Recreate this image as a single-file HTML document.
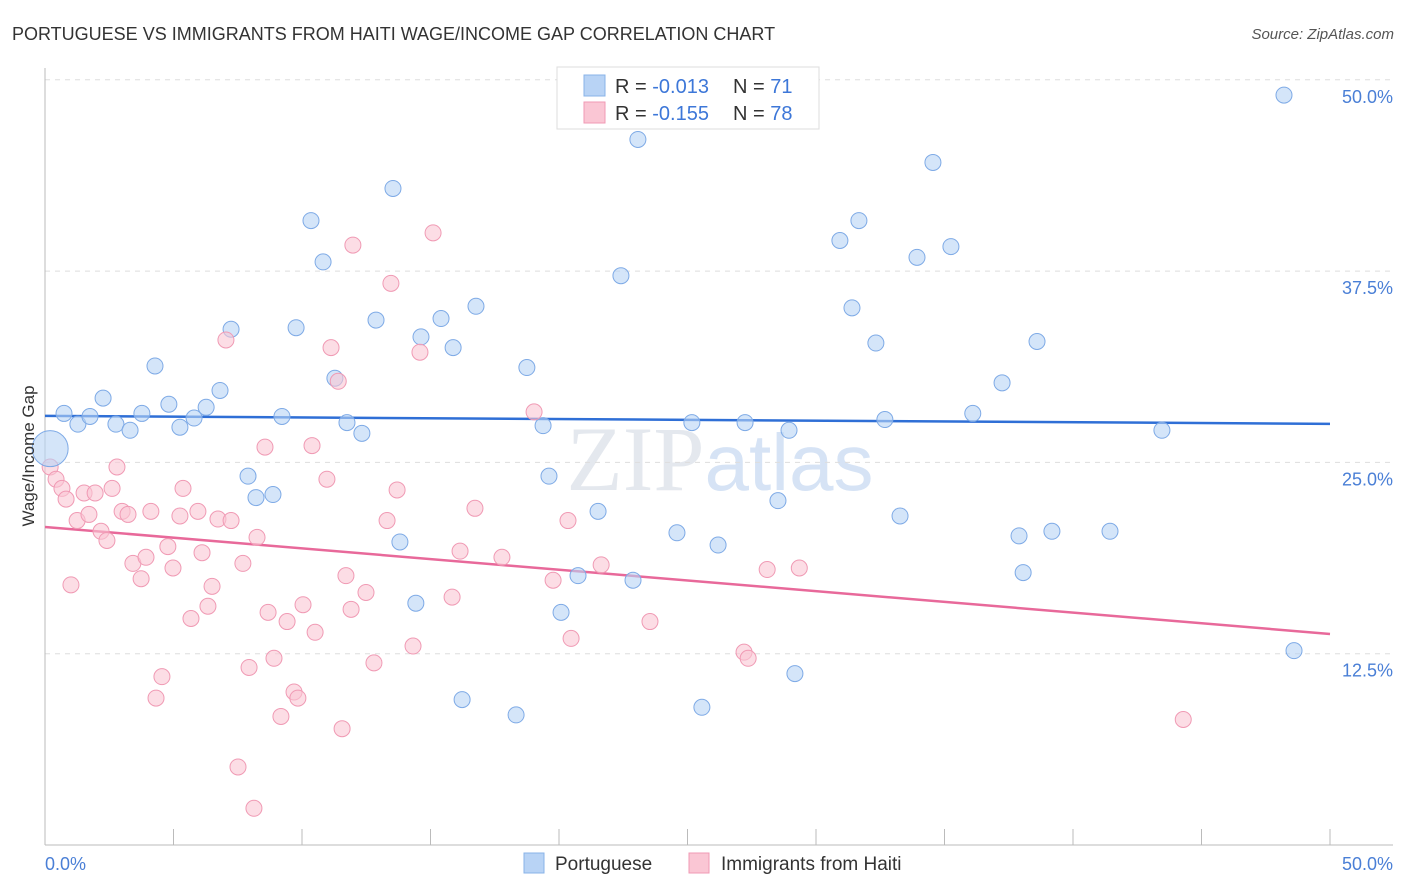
<!DOCTYPE html>
<html><head><meta charset="utf-8"><style>
body{margin:0;background:#fff;font-family:"Liberation Sans",sans-serif;}
svg{display:block}
</style></head><body>
<svg id="chart" width="1406" height="892" xmlns="http://www.w3.org/2000/svg">
<text x="12" y="40" font-size="18" fill="#333">PORTUGUESE VS IMMIGRANTS FROM HAITI WAGE/INCOME GAP CORRELATION CHART</text>
<text x="1394" y="39" font-size="15" fill="#555" font-style="italic" text-anchor="end">Source: ZipAtlas.com</text>
<text x="720" y="490" font-size="92" fill="#e4e8ee" text-anchor="middle" font-family="Liberation Serif,serif">ZIP<tspan fill="#d6e3f5" font-family="Liberation Sans,sans-serif" font-size="80">atlas</tspan></text>
<g id="grid"></g>
<g id="axes"></g>
<g id="lines"></g>
<g id="points"></g>
<text transform="translate(34,456) rotate(-90)" font-size="17" fill="#333" text-anchor="middle">Wage/Income Gap</text>
<text x="45" y="870" font-size="18" fill="#4a7fd6">0.0%</text>
<text x="1393" y="870" font-size="18" fill="#4a7fd6" text-anchor="end">50.0%</text>
<g>
<rect x="557" y="67" width="262" height="62" fill="#fff" stroke="#ddd"/>
<rect x="584" y="75" width="21" height="21" fill="#b8d3f5" stroke="#88b3e8"/>
<rect x="584" y="102" width="21" height="21" fill="#fac6d4" stroke="#f09ab4"/>
<text x="615" y="93" font-size="20" fill="#333">R = <tspan fill="#3d77d8">-0.013</tspan><tspan x="733">N = </tspan><tspan fill="#3d77d8">71</tspan></text>
<text x="615" y="120" font-size="20" fill="#333">R = <tspan fill="#3d77d8">-0.155</tspan><tspan x="733">N = </tspan><tspan fill="#3d77d8">78</tspan></text>
</g>
<g>
<rect x="524" y="853" width="20" height="20" fill="#b8d3f5" stroke="#88b3e8"/>
<text x="555" y="870" font-size="19" fill="#333">Portuguese</text>
<rect x="689" y="853" width="20" height="20" fill="#fac6d4" stroke="#f09ab4"/>
<text x="721" y="870" font-size="19" fill="#333">Immigrants from Haiti</text>
</g>
</svg>
<script>
const yTicks=[12.5,25,37.5,50];
const xTicks=[5,10,15,20,25,30,35,40,45,50];
const blueX=[0.74,1.28,1.75,2.26,2.76,3.31,3.77,4.28,4.82,5.25,5.80,6.27,6.81,7.24,7.90,8.21,8.87,9.22,9.77,10.35,10.82,11.28,11.75,12.33,12.88,13.54,13.81,14.43,14.63,15.41,15.88,16.23,16.77,18.33,18.75,19.38,19.61,20.08,20.74,21.52,22.41,22.88,23.07,24.59,25.17,25.56,26.19,27.24,28.52,28.95,29.18,30.93,31.40,31.67,32.33,32.68,33.27,33.93,34.55,35.25,36.10,37.24,37.90,38.06,38.60,39.18,41.44,43.46,48.21,48.60];
const blueY=[28.2,27.5,28.0,29.2,27.5,27.1,28.2,31.3,28.8,27.3,27.9,28.6,29.7,33.7,24.1,22.7,22.9,28.0,33.8,40.8,38.1,30.5,27.6,26.9,34.3,42.9,19.8,15.8,33.2,34.4,32.5,9.5,35.2,8.5,31.2,27.4,24.1,15.2,17.6,21.8,37.2,17.3,46.1,20.4,27.6,9.0,19.6,27.6,22.5,27.1,11.2,39.5,35.1,40.8,32.8,27.8,21.5,38.4,44.6,39.1,28.2,30.2,20.2,17.8,32.9,20.5,20.5,27.1,49.0,12.7];
const pinkX=[0.2,0.43,0.66,0.82,1.01,1.25,1.52,1.71,1.95,2.18,2.41,2.61,2.80,3.00,3.23,3.42,3.74,3.93,4.12,4.32,4.55,4.78,4.98,5.25,5.37,5.68,5.95,6.11,6.34,6.50,6.73,7.04,7.24,7.51,7.70,7.94,8.13,8.25,8.56,8.68,8.91,9.18,9.42,9.69,9.84,10.04,10.39,10.51,10.97,11.13,11.41,11.56,11.71,11.91,11.98,12.49,12.80,13.31,13.46,13.70,14.32,14.59,15.10,15.84,16.15,16.73,17.78,19.03,19.77,20.35,20.47,21.64,23.54,27.20,27.36,28.10,29.35,44.29];
const pinkY=[24.7,23.9,23.3,22.6,17.0,21.2,23.0,21.6,23.0,20.5,19.9,23.3,24.7,21.8,21.6,18.4,17.4,18.8,21.8,9.6,11.0,19.5,18.1,21.5,23.3,14.8,21.8,19.1,15.6,16.9,21.3,33.0,21.2,5.1,18.4,11.6,2.4,20.1,26.0,15.2,12.2,8.4,14.6,10.0,9.6,15.7,26.1,13.9,23.9,32.5,30.3,7.6,17.6,15.4,39.2,16.5,11.9,21.2,36.7,23.2,13.0,32.2,40.0,16.2,19.2,22.0,18.8,28.3,17.3,21.2,13.5,18.3,14.6,12.6,12.2,18.0,18.1,8.2];
const bigBlue=[0.2,25.9];
const blueTrend=[28.04,27.52];
const pinkTrend=[20.78,13.79];
const NS="http://www.w3.org/2000/svg";
const sx=v=>45+v/50*1285;
const sy=v=>845-v*15.304;
function mk(tag,attrs,parent){const e=document.createElementNS(NS,tag);for(const k in attrs)e.setAttribute(k,attrs[k]);parent.appendChild(e);return e;}
const grid=document.getElementById('grid'),axes=document.getElementById('axes'),lines=document.getElementById('lines'),pts=document.getElementById('points');
yTicks.forEach(t=>{
 const l=mk('line',{x1:45,x2:1393,y1:sy(t),y2:sy(t),stroke:'#ddd','stroke-dasharray':'5,5'},grid);
 
 
 const tx=mk('text',{x:1393,y:sy(t)+23,'font-size':18,fill:'#4a7fd6','text-anchor':'end'},grid);
 tx.textContent=t.toFixed(1)+'%';
 
 
});
const ya=mk('line',{x1:45,x2:45,y1:68,y2:845,stroke:'#bbb'},axes);


const xa=mk('line',{x1:45,x2:1393,y1:845,y2:845,stroke:'#bbb'},axes);


xTicks.forEach(t=>{
 const l=mk('line',{x1:sx(t),x2:sx(t),y1:829,y2:845,stroke:'#bbb'},axes);
 
 
});
function dot(x,y,r,fill,stroke){const c=mk('circle',{cx:sx(x),cy:sy(y),r:r,fill:fill,stroke:stroke,'stroke-width':1,'fill-opacity':0.6},pts);return c;}
blueX.forEach((x,i)=>{const c=dot(x,blueY[i],8,'#b8d3f5','#7eaae6');
 
 });
pinkX.forEach((x,i)=>{const c=dot(x,pinkY[i],8,'#fac6d4','#f09ab4');
 
 });
const bb=dot(bigBlue[0],bigBlue[1],18,'#b8d3f5','#7eaae6');


const bl=mk('line',{x1:sx(0),x2:sx(50),y1:sy(blueTrend[0]),y2:sy(blueTrend[1]),stroke:'#2f6fd6','stroke-width':2.5},lines);


const pl=mk('line',{x1:sx(0),x2:sx(50),y1:sy(pinkTrend[0]),y2:sy(pinkTrend[1]),stroke:'#e8699a','stroke-width':2.5},lines);


</script>
</body></html>
